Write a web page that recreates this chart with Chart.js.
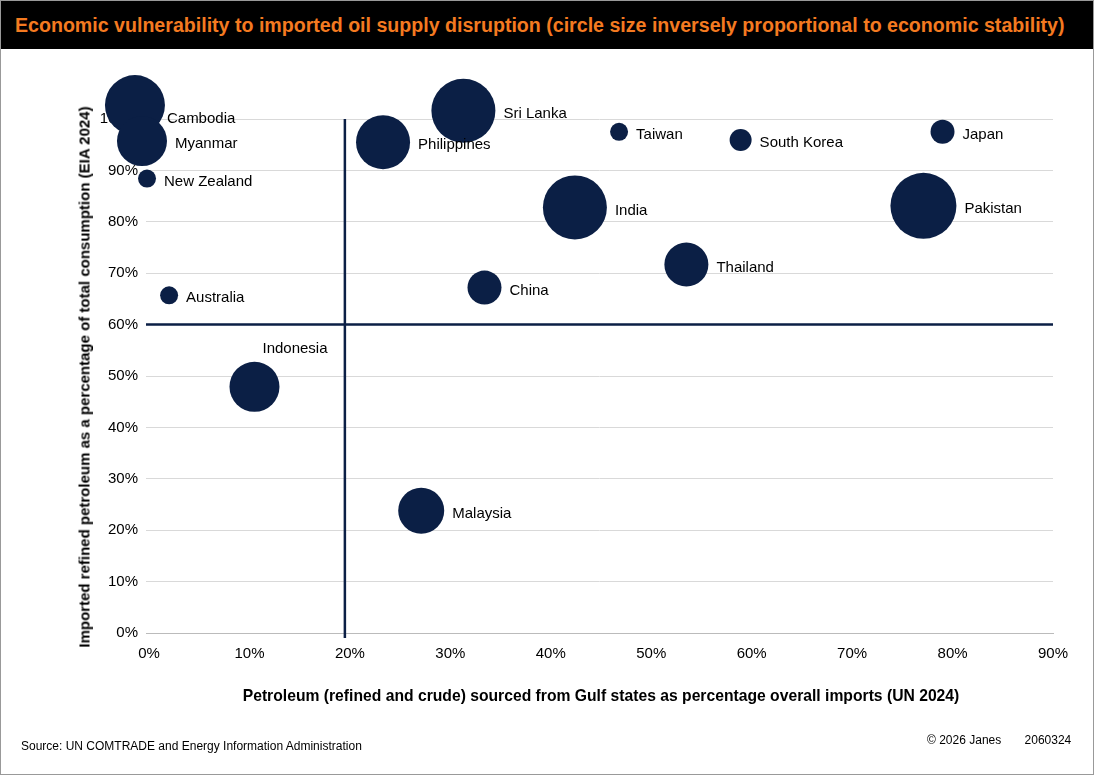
<!DOCTYPE html>
<html><head><meta charset="utf-8">
<script src="https://cdn.jsdelivr.net/npm/chart.js@4/dist/chart.umd.min.js"></script>
<style>
html,body{margin:0;padding:0;background:#fff;font-family:"Liberation Sans",Arial,sans-serif;}
#wrap{position:relative;width:1092px;height:773px;border:1px solid #999;overflow:hidden;}
#title{position:absolute;left:0;top:0;width:1092px;height:48px;background:#000;color:#f47a20;font-weight:bold;font-size:19.6px;padding-left:14px;box-sizing:border-box;line-height:58px;}
#title span{position:relative;top:-5px;}
canvas{position:absolute;left:0;top:0;}
.t{position:absolute;color:#000;font-size:15px;}
</style></head><body>
<div id="wrap">
<canvas id="c" width="1085" height="773"></canvas>
<div id="title"><span>Economic vulnerability to imported oil supply disruption (circle size inversely proportional to economic stability)</span></div>
<div class="t" style="left:0;top:686px;width:1200px;text-align:center;font-weight:bold;font-size:15.7px;">Petroleum (refined and crude) sourced from Gulf states as percentage overall imports (UN 2024)</div>
<div class="t" style="left:83px;top:376px;transform:translate(-50%,-50%) rotate(-90deg);white-space:nowrap;font-weight:bold;">Imported refined petroleum as a percentage of total consumption (EIA 2024)</div>
<div class="t" style="left:20px;top:738px;font-size:12px;">Source: UN COMTRADE and Energy Information Administration</div>
<div class="t" style="left:926px;top:732px;font-size:12px;">© 2026 Janes&nbsp;&nbsp;&nbsp;&nbsp;&nbsp;&nbsp;&nbsp;2060324</div>
</div>
<script>
const countries=["Cambodia","Myanmar","New Zealand","Australia","Indonesia","Malaysia","Philippines","Sri Lanka","China","India","Taiwan","Thailand","South Korea","Japan","Pakistan"];
const gulfShare=[-0.014,-0.007,-0.002,0.020,0.105,0.271,0.233,0.313,0.334,0.424,0.468,0.535,0.589,0.790,0.771];
const importShare=[1.027,0.957,0.884,0.657,0.479,0.238,0.955,1.016,0.672,0.828,0.975,0.717,0.959,0.975,0.831];
const instability=[30,25,9,9,25,23,27,32,17,32,9,22,11,12,33];
const xTicks=[0,0.1,0.2,0.3,0.4,0.5,0.6,0.7,0.8,0.9];
const yTicks=[0,0.1,0.2,0.3,0.4,0.5,0.6,0.7,0.8,0.9,1.0];
const refX=0.195, refY=0.6;
const navy="#0b1f45";
const font={family:"Liberation Sans, Arial",size:15};

const labelPlugin={id:"lbl",afterDatasetsDraw(ch){
  const ctx=ch.ctx;const meta=ch.getDatasetMeta(0);
  ctx.save();ctx.font="15px Liberation Sans, Arial";ctx.fillStyle="#000";ctx.textBaseline="middle";
  meta.data.forEach((p,i)=>{const r=instability[i];const n=countries[i];
    ctx.textAlign="left";
    if(n==="Indonesia"){ctx.fillText(n,p.x+8,p.y-38);}
    else if(n==="Cambodia"){ctx.fillText(n,p.x+r+2,p.y+14);}
    else {ctx.fillText(n,p.x+r+8,p.y+3);}
  });ctx.restore();}};
const refPlugin={id:"ref",beforeDatasetsDraw(ch){
  const ctx=ch.ctx,x=ch.scales.x,y=ch.scales.y;
  ctx.save();ctx.strokeStyle=navy;ctx.lineWidth=2.5;ctx.beginPath();
  const px=x.getPixelForValue(refX),py=y.getPixelForValue(refY);
  ctx.moveTo(px,y.getPixelForValue(1.0));ctx.lineTo(px,y.getPixelForValue(0)+5);
  ctx.moveTo(x.left,py);ctx.lineTo(x.right,py);ctx.stroke();ctx.restore();}};

new Chart(document.getElementById("c"),{type:"bubble",
 data:{datasets:[{data:countries.map((c,i)=>({x:gulfShare[i],y:importShare[i],r:instability[i]})),backgroundColor:navy,borderColor:navy,borderWidth:0,clip:false}]},
 plugins:[refPlugin,labelPlugin],
 options:{responsive:false,animation:false,events:[],
  layout:{padding:{left:0,top:118,right:24,bottom:81}},
  plugins:{legend:{display:false},tooltip:{enabled:false}},
  scales:{
   x:{type:"linear",min:-0.003,max:0.9,afterBuildTicks:s=>{s.ticks=xTicks.map(v=>({value:v}));},
     afterFit:s=>{s.height=60;},
     grid:{display:false,drawTicks:false},border:{color:"#bbb"},
     ticks:{font,color:"#000",padding:12,maxRotation:0,callback:v=>Math.round(v*100)+"%"}},
   y:{type:"linear",min:0,max:1.0,afterBuildTicks:s=>{s.ticks=yTicks.map(v=>({value:v}));},
     afterFit:s=>{s.width=145;},
     grid:{color:"#d9d9d9",drawTicks:false},border:{display:false},
     ticks:{font,color:"#000",padding:8,callback:v=>Math.round(v*100)+"%"}}
  }}});
</script></body></html>
